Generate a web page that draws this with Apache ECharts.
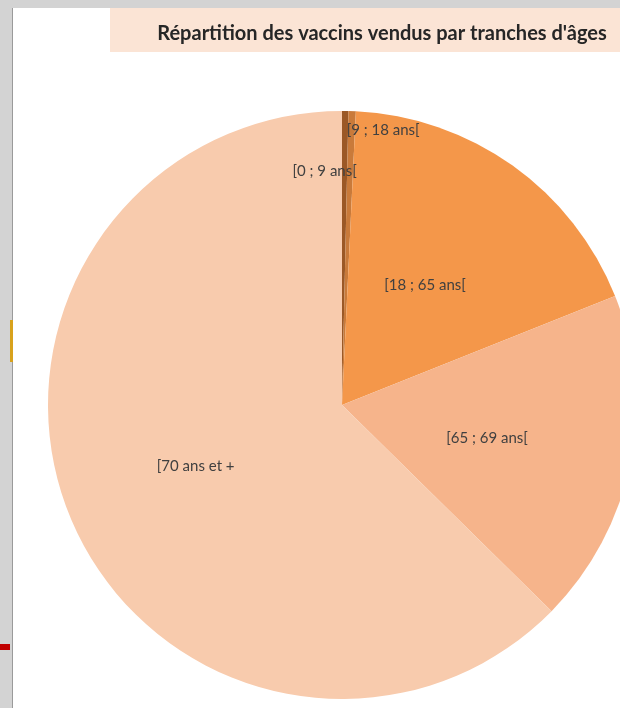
<!DOCTYPE html>
<html>
<head>
<meta charset="utf-8">
<script src="https://cdn.jsdelivr.net/npm/echarts@6/dist/echarts.min.js"></script>
<style>
  html, body { margin:0; padding:0; width:620px; height:708px; overflow:hidden; background:#d3d3d3; }
  #panel { position:absolute; left:12px; top:8px; width:608px; height:700px; background:#ffffff; border-left:1px solid #9a9a9a; }
  #ybar { position:absolute; left:10px; top:320px; width:3px; height:42px; background:#d8a21c; }
  #rbar { position:absolute; left:0px; top:644px; width:10px; height:6px; background:#c00000; }
  #chart { position:absolute; left:0; top:0; width:620px; height:708px; }
</style>
</head>
<body>
<div id="panel"></div>
<div id="ybar"></div>
<div id="rbar"></div>
<div id="chart"></div>
<script>
// Data
const titleText = "Répartition des vaccins vendus par tranches d'âges";
const categories = ["[0 ; 9 ans[", "[9 ; 18 ans[", "[18 ; 65 ans[", "[65 ; 69 ans[", "[70 ans et +"];
const values = [0.35, 0.4, 18.2, 18.4, 62.6];
const colors = ["#9b5826", "#c97a3a", "#f4974a", "#f6b48b", "#f8cbad"];
// manual label nudges (like the moved labels in the original)
const labelOffsets = [[-19, -84], [36, -125], [-4, 2], [-2, 4], [-8, 3]];

const chart = echarts.init(document.getElementById('chart'), null, { renderer: 'canvas' });
const option = {
  animation: false,
  backgroundColor: 'transparent',
  graphic: [{
    type: 'rect', left: 110, top: 8, z: 0,
    shape: { width: 510, height: 44 },
    style: { fill: '#fbe4d5' }
  }],
  title: {
    text: titleText,
    left: 377, top: 19, textAlign: 'center',
    textStyle: { fontFamily: 'Lato', fontWeight: 'bold', fontSize: 20, color: '#262626' }
  },
  series: [{
    type: 'pie',
    center: [342, 405],
    radius: [0, 294],
    startAngle: 90,
    clockwise: true,
    avoidLabelOverlap: false,
    label: {
      show: true, position: 'inside',
      fontFamily: 'Lato', fontSize: 15, color: '#404040',
      formatter: p => p.name
    },
    labelLine: { show: false },
    itemStyle: { borderWidth: 0 },
    emphasis: { disabled: true },
    data: categories.map((c, i) => ({
      name: c, value: values[i],
      itemStyle: { color: colors[i] },
      label: { offset: labelOffsets[i] }
    }))
  }]
};
chart.setOption(option);
</script>
</body>
</html>
